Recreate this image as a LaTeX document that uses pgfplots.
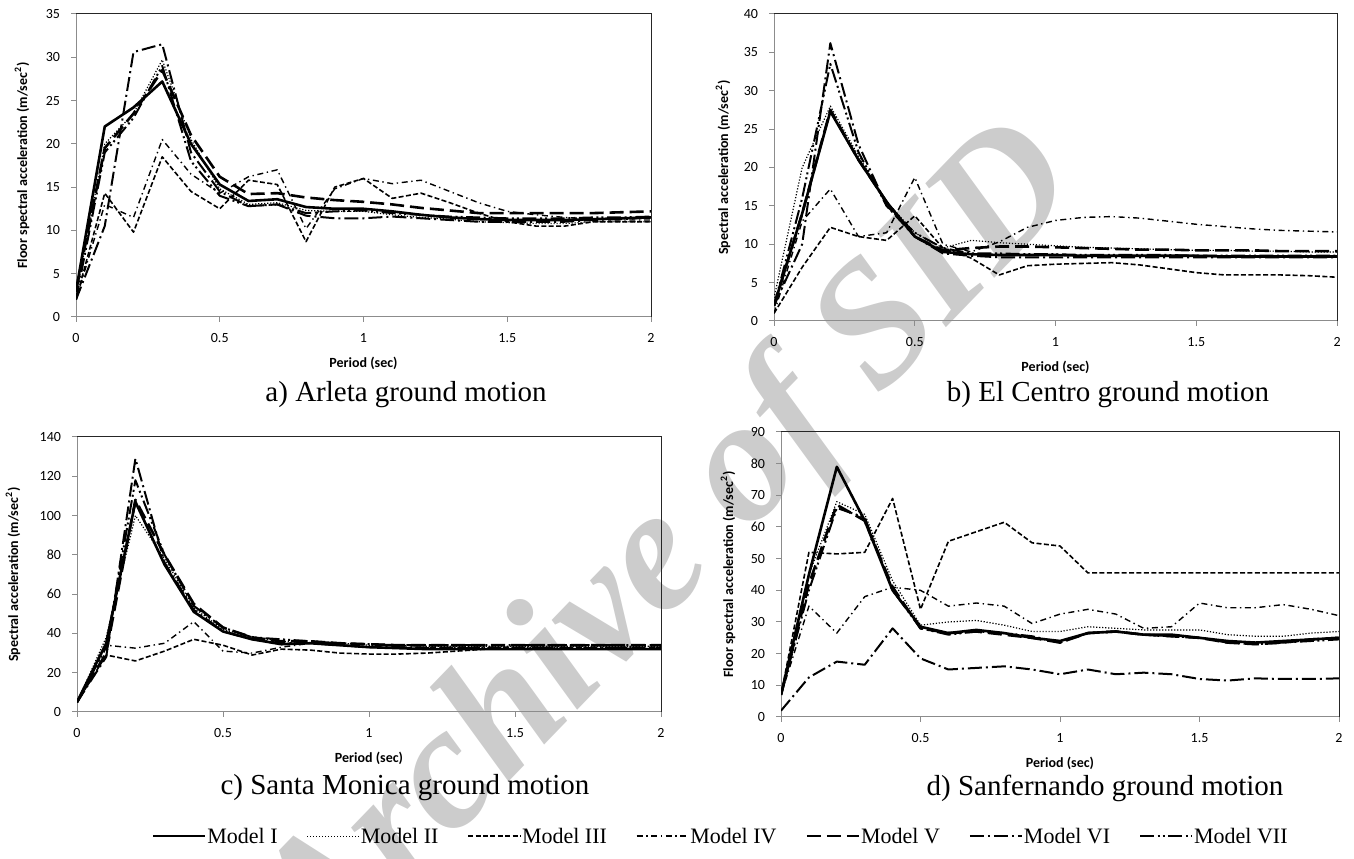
\documentclass[border=0pt]{standalone}
\usepackage{pgfplots}
\usepackage{pgfplotstable}
\pgfplotsset{compat=1.18}
\usepackage{fontspec}
\setmainfont{Liberation Serif}
\newfontfamily\calibri{Carlito}

% Floor spectral acceleration (m/sec^2) against period (sec), seven models
\pgfplotstableread{
T    I     II    III   IV    V     VI    VII
0    3.0   2.5   2.0   2.0   3.0   2.0   2.0
0.1  22.0  20.0  14.3  13.0  19.5  10.5  19.0
0.2  24.2  23.5  9.8   11.5  23.5  30.6  23.0
0.3  27.2  29.7  18.5  20.5  28.5  31.5  29.0
0.4  20.0  20.5  14.5  16.5  21.0  19.0  18.0
0.5  15.3  14.8  12.5  14.3  16.2  14.5  14.0
0.6  13.4  13.0  15.8  16.2  14.2  12.8  12.8
0.7  13.6  13.2  15.3  17.0  14.3  13.0  13.0
0.8  12.7  12.3  8.7   10.2  13.8  11.7  12.0
0.9  12.5  12.2  15.0  14.8  13.5  11.4  12.2
1.0  12.5  12.2  16.0  16.0  13.3  11.4  12.3
1.1  12.2  11.8  13.7  15.4  13.0  11.6  12.0
1.2  11.8  11.5  14.3  15.8  12.6  11.4  11.8
1.3  11.5  11.3  13.2  14.5  12.3  11.2  11.6
1.4  11.3  11.0  12.0  13.2  12.0  11.0  11.5
1.5  11.2  10.9  11.0  12.2  12.0  11.0  11.4
1.6  11.2  10.8  10.5  11.8  12.0  11.0  11.4
1.7  11.2  10.8  10.5  11.5  12.0  11.0  11.4
1.8  11.3  11.0  11.0  11.3  12.0  11.2  11.5
1.9  11.4  11.0  11.0  11.2  12.1  11.3  11.5
2.0  11.5  11.0  11.0  11.2  12.2  11.5  11.6
}\arleta

\pgfplotstableread{
T    I    II   III  IV   V    VI   VII
0    2.0  3.0  1.0  1.0  2.0  2.0  2.0
0.1  14.0 20.0 7.0  13.0 14.0 10.0 16.0
0.2  27.3 28.0 12.2 17.2 27.5 36.2 33.5
0.3  21.0 21.5 11.0 11.0 21.0 23.0 22.0
0.4  15.5 15.5 10.5 11.5 15.5 15.0 15.0
0.5  11.0 11.5 13.7 18.7 11.0 11.0 11.5
0.6  9.0  9.5  9.5  10.0 9.2  8.8  9.5
0.7  8.7  10.5 8.2  9.0  9.5  8.5  8.8
0.8  8.6  10.2 6.0  10.3 9.7  8.3  8.8
0.9  8.6  10.0 7.2  12.2 9.7  8.3  8.7
1.0  8.6  9.8  7.4  13.1 9.6  8.3  8.7
1.1  8.5  9.6  7.5  13.5 9.5  8.3  8.6
1.2  8.5  9.5  7.6  13.6 9.4  8.3  8.6
1.3  8.5  9.4  7.3  13.4 9.3  8.3  8.6
1.4  8.5  9.3  6.8  13.0 9.3  8.3  8.6
1.5  8.5  9.2  6.3  12.6 9.2  8.3  8.5
1.6  8.4  9.2  6.0  12.3 9.2  8.3  8.5
1.7  8.4  9.1  6.0  12.0 9.2  8.3  8.5
1.8  8.4  9.1  6.0  11.8 9.1  8.3  8.5
1.9  8.4  9.0  5.9  11.7 9.1  8.3  8.5
2.0  8.4  9.0  5.7  11.6 9.1  8.3  8.5
}\elcentro

\pgfplotstableread{
T    I     II    III   IV    V     VI    VII
0    5     5     5     5     5     5     5
0.1  35    38    29    34    30    28    33
0.2  107   100   26    32.5  108   129   118
0.3  75    78    31    35    80    76    80
0.4  51    53    37    46    55    52    54
0.5  41    42    34    31    43    41    43
0.6  37    38    29    30    38    37    38
0.7  34.5  36    32    33    36    35    37
0.8  35    35    31.5  35    36    35    36
0.9  34    35    30    34    35    34    35
1.0  33    34    29.5  33    34.5  33    34.5
1.1  32.5  34    29.5  33    34    33    34
1.2  32    33.5  30    33    34    32.5  34
1.3  32    33.5  31    33    34    32.5  34
1.4  32    33.5  32    33    34    32.5  34
1.5  32    33.5  32    33    34    32.5  34
1.6  32    33.5  32    33    34    32.5  34
1.7  32    33.5  32    33    34    32.5  34
1.8  32    33.5  32    33    34    32.5  34
1.9  32    33.5  32    33    34    32.5  34
2.0  32    33.5  32    33    34    32.5  34
}\santamonica

\pgfplotstableread{
T    I    II   III  IV   V    VI   VII
0    7    7    7    7    7    2    7
0.1  45   45   52   35   42   12.5 40
0.2  79   68   51.5 26.5 67   17.5 66
0.3  62   64   52   38   62   16.5 63
0.4  40   43   69   41   41   28   40
0.5  28.5 29   34   40   28   18.5 28
0.6  26.5 30   55.5 35   26.5 15   26
0.7  27.5 30.5 58.5 36   27   15.5 27
0.8  26.5 29   61.5 35   26   16   26.5
0.9  25   27   55   29.5 25   15   25.5
1.0  24   27   54   32.5 23.5 13.5 23.5
1.1  26.5 28.5 45.5 34   26.5 15   26.5
1.2  27   28   45.5 32.5 27   13.5 27
1.3  26   27.5 45.5 28   26   14   26
1.4  26   27.5 45.5 28.5 25.5 13.5 25.5
1.5  25   27.5 45.5 36   25   12   25
1.6  24   26   45.5 34.5 23.5 11.5 23.5
1.7  23.5 25.5 45.5 34.5 23   12.2 23
1.8  24   25.5 45.5 35.5 23.5 12   23.5
1.9  24.5 26.5 45.5 34   24.5 12   24
2.0  25   27   45.5 32   25   12.2 24.5
}\sanfernando

% line styles of the seven models
\tikzset{
  mI/.style={line width=1.3bp, solid},
  mII/.style={line width=0.6bp, dash pattern=on 0.6bp off 0.9bp},
  mIII/.style={line width=0.8bp, dash pattern=on 2.5bp off 1.2bp},
  mIV/.style={line width=0.7bp, dash pattern=on 3bp off 1.8bp on 0.7bp off 1.8bp},
  mV/.style={line width=1.3bp, dash pattern=on 7bp off 3bp},
  mVI/.style={line width=1bp, dash pattern=on 7bp off 2bp on 1bp off 2bp},
  mVII/.style={line width=1bp, dash pattern=on 7bp off 1.8bp on 1bp off 1.5bp on 1bp off 1.8bp},
}

\pgfplotsset{
  spec/.style={
    scale only axis, xmin=0, xmax=2, xtick={0,0.5,1,1.5,2}, ymin=0,
    axis line style={draw=black!45, line width=0.5bp},
    tick style={draw=black!45, line width=0.5bp},
    tick align=outside, major tick length=2.5bp,
    xtick pos=left, ytick pos=left,
    tick label style={font=\calibri\fontsize{7bp}{8bp}\selectfont},
    /pgf/number format/assume math mode=true,
    xticklabel style={yshift=-2bp},
    yticklabel style={xshift=-2bp},
    label style={font=\calibri\bfseries\fontsize{7bp}{8bp}\selectfont},
    xlabel={Period (sec)},
    xlabel style={at={([yshift=-23bp]axis description cs:0.5,0)}, anchor=center},
    every axis plot/.append style={black, line join=round},
    after end axis/.code={\draw[black!85, line width=0.5bp] (rel axis cs:0,1) -- (rel axis cs:1,1) -- (rel axis cs:1,0);},
  },
  ylab/.style={ylabel style={at={([xshift=-#1]axis description cs:0,0.5)}, anchor=center}},
}

\newcommand\drawmodels[1]{%
  \addplot[mI]   table[x=T,y=I]   {#1};
  \addplot[mII]  table[x=T,y=II]  {#1};
  \addplot[mIII] table[x=T,y=III] {#1};
  \addplot[mIV]  table[x=T,y=IV]  {#1};
  \addplot[mV]   table[x=T,y=V]   {#1};
  \addplot[mVI]  table[x=T,y=VI]  {#1};
  \addplot[mVII] table[x=T,y=VII] {#1};
}

\begin{document}
\begin{tikzpicture}[x=0.5bp,y=0.5bp]
\path[use as bounding box] (0,0) rectangle (1354,858);

\node[rotate=46, text=black!20, font=\fontsize{88bp}{88bp}\selectfont\bfseries\itshape] at (672,308) {Archive of SID};

% a) Arleta
\begin{axis}[spec, at={(38bp,270.5bp)}, anchor=origin, width=287.5bp, height=151.5bp,
  ymax=35, ytick={0,5,...,35}, ylab=27bp,
  ylabel={Floor spectral acceleration (m/sec\textsuperscript{2})}]
\drawmodels{\arleta}
\end{axis}

% b) El Centro
\begin{axis}[spec, at={(387bp,268.5bp)}, anchor=origin, width=281.5bp, height=153.5bp,
  ymax=40, ytick={0,5,...,40}, ylab=25.5bp,
  ylabel={Spectral acceleration (m/sec\textsuperscript{2})}]
\drawmodels{\elcentro}
\end{axis}

% c) Santa Monica
\begin{axis}[spec, at={(38.5bp,73bp)}, anchor=origin, width=292bp, height=137.5bp,
  ymax=140, ytick={0,20,...,140}, ylab=32bp,
  ylabel={Spectral acceleration (m/sec\textsuperscript{2})}]
\drawmodels{\santamonica}
\end{axis}

% d) Sanfernando, carries the shared legend
\begin{axis}[spec, at={(390.5bp,70.5bp)}, anchor=origin, width=279bp, height=142.5bp,
  ymax=90, ytick={0,10,...,90}, ylab=26.5bp,
  ylabel={Floor spectral acceleration (m/sec\textsuperscript{2})},
  legend columns=7,
  legend style={at={(axis description cs:-0.109,-0.418)}, anchor=center,
    draw=none, fill=none, font=\fontsize{11bp}{12bp}\selectfont,
    /tikz/every odd column/.style={column sep=0bp},
    /tikz/every even column/.style={column sep=14bp},
    /tikz/every node/.style={inner sep=0.5bp}},
  legend image code/.code={\draw[#1] (0bp,0bp) -- (26bp,0bp);}]
\drawmodels{\sanfernando}
\legend{Model I, Model II, Model III, Model IV, Model V, Model VI, Model VII}
\end{axis}

\node[font=\fontsize{14.5bp}{16bp}\selectfont] at (406,463) {a) Arleta ground motion};
\node[font=\fontsize{14.5bp}{16bp}\selectfont] at (1108,463) {b) El Centro ground motion};
\node[font=\fontsize{14.5bp}{16bp}\selectfont] at (405,70) {c) Santa Monica ground motion};
\node[font=\fontsize{14.5bp}{16bp}\selectfont] at (1105,70) {d) Sanfernando ground motion};
\end{tikzpicture}
\end{document}
